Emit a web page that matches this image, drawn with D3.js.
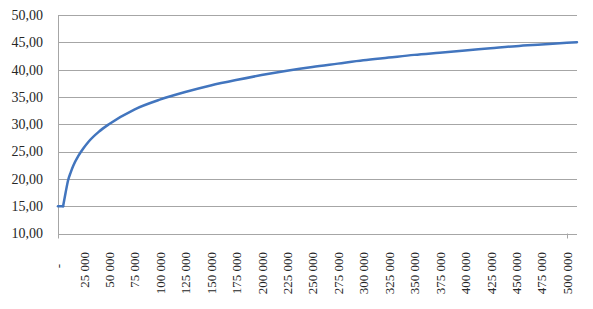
<!DOCTYPE html>
<html>
<head>
<meta charset="utf-8">
<script src="https://cdn.jsdelivr.net/npm/d3@7.9.0/dist/d3.min.js"></script>
<style>
  html, body { margin: 0; padding: 0; background: #fff; }
  svg { display: block; }
  text { font-family: "Liberation Serif", "Times New Roman", serif; fill: #262626; }
</style>
</head>
<body>
<div id="chart"></div>
<script>
// values
const xValues = [0, 5000, 7500, 10000, 12500, 15000, 20000, 25000, 30000, 40000,
  50000, 75000, 100000, 125000, 150000, 175000, 200000, 225000, 250000, 275000,
  300000, 325000, 350000, 375000, 400000, 425000, 450000, 475000, 500000, 510000];
const yValues = [15.0, 15.0, 17.5, 19.8, 21.2, 22.4, 24.2, 25.6, 26.8, 28.6,
  30.0, 32.7, 34.5, 35.9, 37.1, 38.1, 39.0, 39.8, 40.5, 41.1,
  41.7, 42.2, 42.7, 43.1, 43.5, 43.9, 44.3, 44.6, 44.9, 45.0];
const yTicks = [10, 15, 20, 25, 30, 35, 40, 45, 50];
const xTicks = d3.range(0, 500001, 25000);

const width = 593;
const height = 309;

const x = d3.scaleLinear().domain([0, 510000]).range([58, 577]);
const y = d3.scaleLinear().domain([10, 50]).range([233.5, 15]);

const svg = d3.select("#chart")
  .append("svg")
  .attr("width", width)
  .attr("height", height);

// gridlines
svg.append("g")
  .selectAll("line")
  .data(yTicks.slice(1))
  .join("line")
  .attr("x1", x(0))
  .attr("x2", x(510000))
  .attr("y1", (d) => Math.round(y(d)) + 0.5)
  .attr("y2", (d) => Math.round(y(d)) + 0.5)
  .attr("stroke", "#a6a6a6")
  .attr("stroke-width", 1);

// axes lines
svg.append("line")
  .attr("x1", Math.round(x(0)) + 0.5)
  .attr("x2", Math.round(x(0)) + 0.5)
  .attr("y1", y(50))
  .attr("y2", y(10) + 5)
  .attr("stroke", "#a6a6a6");
svg.append("line")
  .attr("x1", x(0))
  .attr("x2", x(510000))
  .attr("y1", Math.round(y(10)) + 0.5)
  .attr("y2", Math.round(y(10)) + 0.5)
  .attr("stroke", "#a6a6a6");
svg.append("line")
  .attr("x1", Math.round(x(500000)) + 0.5)
  .attr("x2", Math.round(x(500000)) + 0.5)
  .attr("y1", y(10))
  .attr("y2", y(10) + 5)
  .attr("stroke", "#a6a6a6");

// y labels
const yFmt = (d) => d.toFixed(2).replace(".", ",");
svg.append("g")
  .selectAll("text")
  .data(yTicks)
  .join("text")
  .attr("x", 43)
  .attr("y", (d) => y(d))
  .attr("dy", "0.35em")
  .attr("text-anchor", "end")
  .style("font-size", "14px")
  .text(yFmt);

// x labels
const xFmt = (d) => (d === 0 ? "-" : d3.format(",")(d).replace(/,/g, " "));
svg.append("g")
  .selectAll("text")
  .data(xTicks)
  .join("text")
  .attr("transform", (d) => `translate(${x(d) + 0.5},${d === 0 ? 264 : 252}) rotate(-90)`)
  .attr("dy", "0.35em")
  .attr("text-anchor", "end")
  .style("font-size", "13px")
  .text(xFmt);

// series: flat start, then the rising curve
const points = xValues.map((v, i) => [v, yValues[i]]);
const flat = points.filter((p) => p[0] <= 5000);
const rise = points.filter((p) => p[0] >= 5000);

svg.append("path")
  .attr("d", d3.line().x((d) => x(d[0])).y((d) => y(d[1]))(flat))
  .attr("fill", "none")
  .attr("stroke", "#4275be")
  .attr("stroke-width", 2.5)
  .attr("stroke-linecap", "round");

svg.append("path")
  .attr("d", d3.line().curve(d3.curveMonotoneX).x((d) => x(d[0])).y((d) => y(d[1]))(rise))
  .attr("fill", "none")
  .attr("stroke", "#4275be")
  .attr("stroke-width", 2.5)
  .attr("stroke-linecap", "round");
</script>
</body>
</html>
